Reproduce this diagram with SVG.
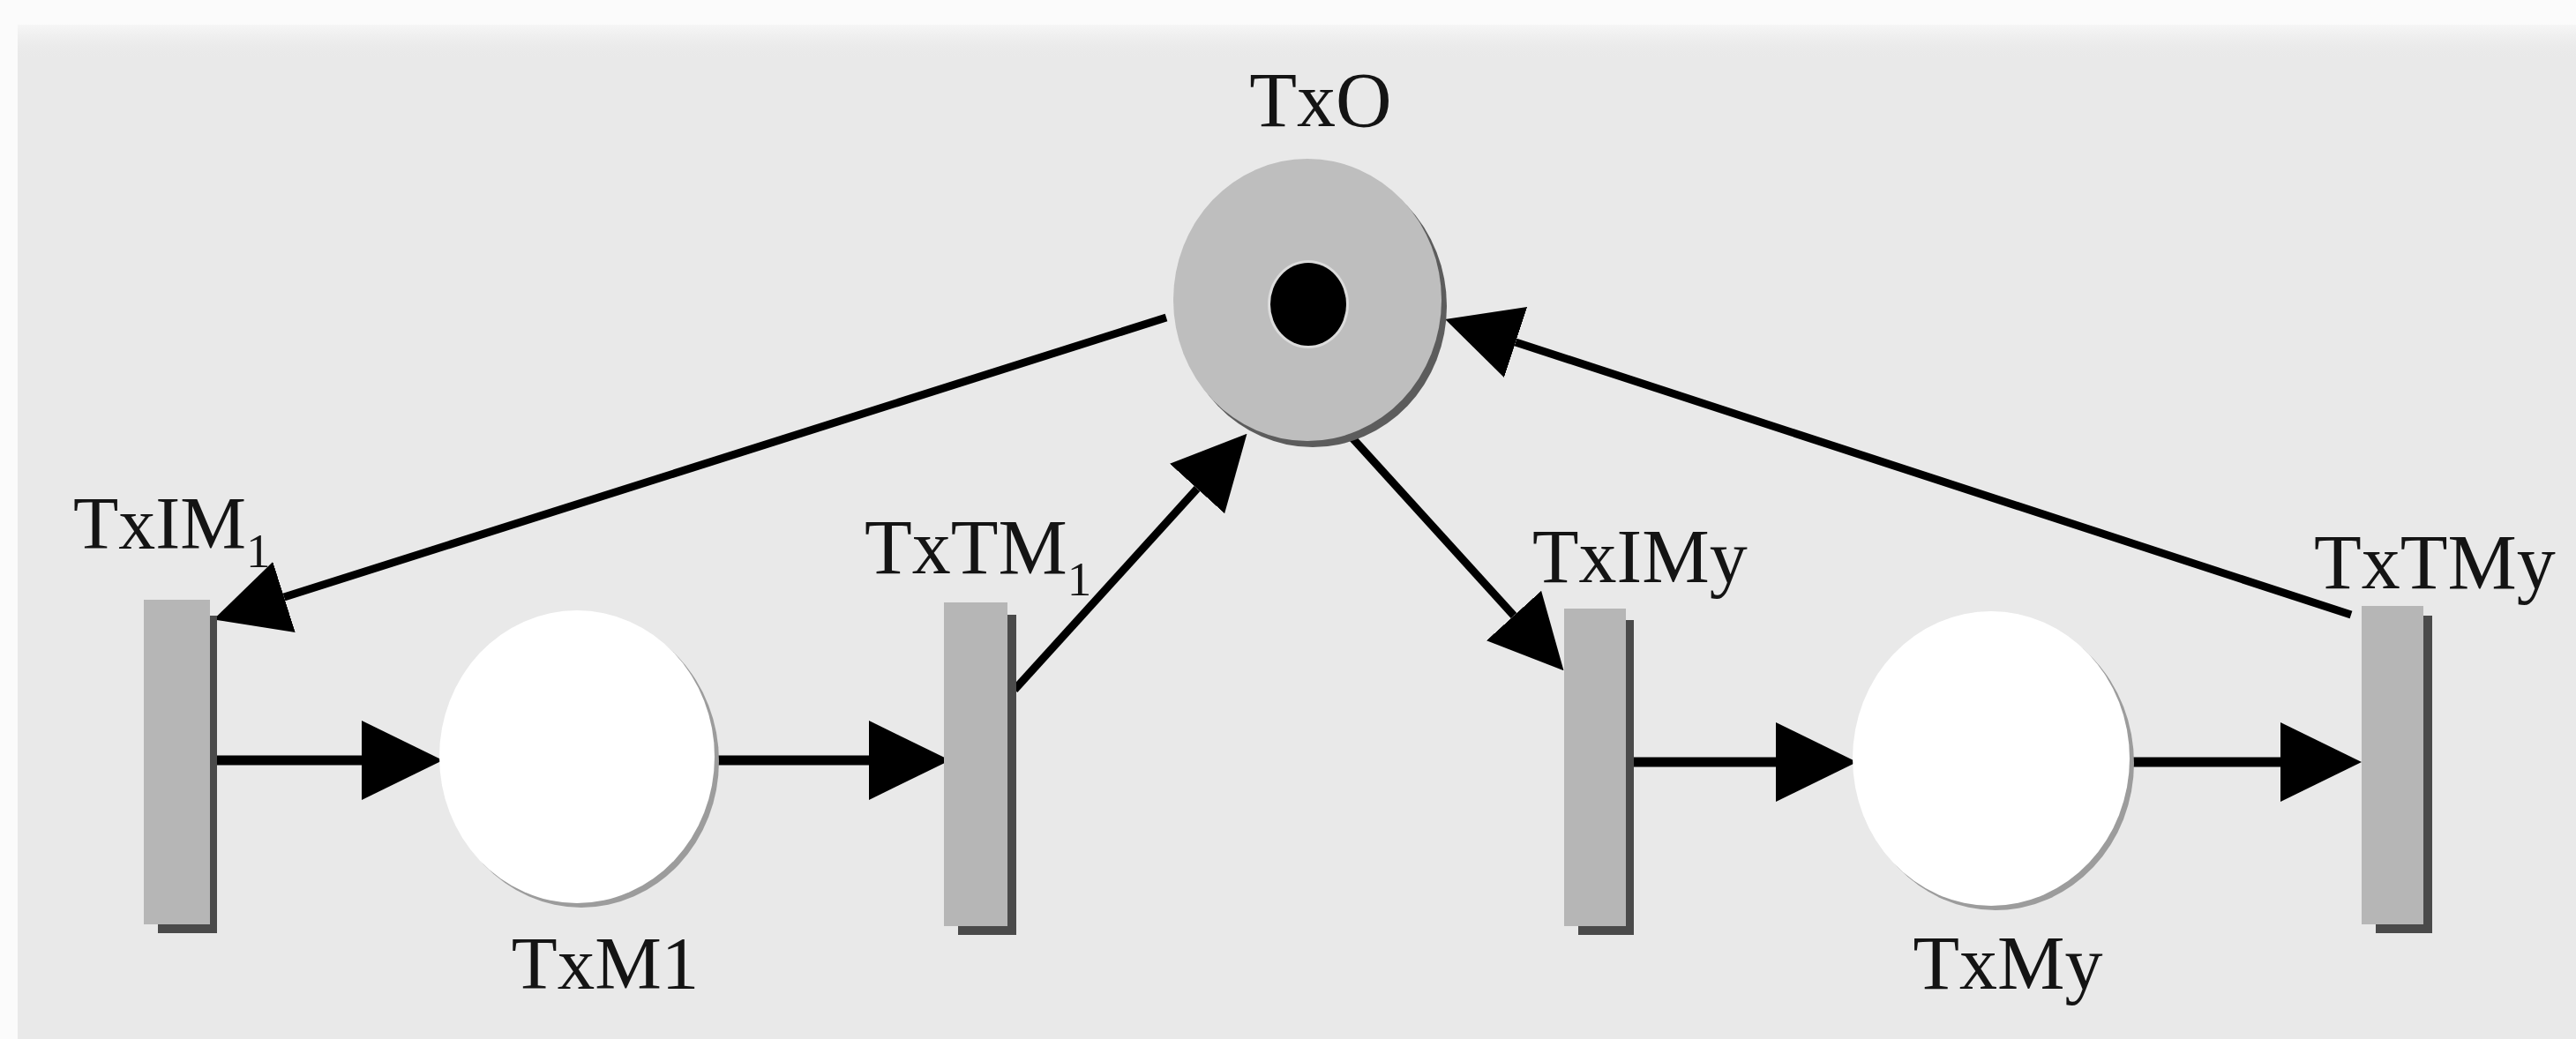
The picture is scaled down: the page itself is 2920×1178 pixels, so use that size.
<svg xmlns="http://www.w3.org/2000/svg" width="2920" height="1178" viewBox="0 0 2920 1178">
  <defs>
    <style>
      .lbl { font-family: "Liberation Serif", "Times New Roman", serif; fill: #141414; }
      .sub { font-size: 55px; }
      .bar { fill: #b6b6b6; }
      .bar-shadow { fill: #4a4a4a; }
      .arc { fill: none; stroke: #000; stroke-linecap: butt; }
      .arc-h { stroke-width: 11; marker-end: url(#head-h); }
      .arc-d { stroke-width: 9; marker-end: url(#head-d); }
    </style>
    <!-- arrowheads start at the line end (base) and point forward -->
    <marker id="head-h" markerUnits="userSpaceOnUse" viewBox="0 0 92 90" markerWidth="92" markerHeight="90" refX="0" refY="45" orient="auto">
      <path d="M0,0 L92,45 L0,90 Z" fill="#000"/>
    </marker>
    <marker id="head-d" markerUnits="userSpaceOnUse" viewBox="0 0 84 84" markerWidth="84" markerHeight="84" refX="0" refY="42" orient="auto">
      <path d="M0,0 L84,42 L0,84 Z" fill="#000"/>
    </marker>
    <linearGradient id="topfade" x1="0" y1="0" x2="0" y2="1">
      <stop offset="0" stop-color="#f6f6f6"/>
      <stop offset="1" stop-color="#e9e9e9" stop-opacity="0"/>
    </linearGradient>
  </defs>

  <!-- page and panel -->
  <rect x="0" y="0" width="2920" height="1178" fill="#fbfbfb"/>
  <rect x="20" y="28" width="2900" height="1150" fill="#e9e9e9"/>
  <rect x="20" y="28" width="2900" height="40" fill="url(#topfade)"/>

  <!-- arcs -->
  <g id="connectors">
    <path class="arc arc-d" d="M1322,360 L322,677"/>
    <path class="arc arc-h" d="M230,862 L410,862"/>
    <path class="arc arc-h" d="M806,862 L985,862"/>
    <path class="arc arc-d" d="M1150,782 L1357,554"/>
    <path class="arc arc-d" d="M1527,490 L1716,698"/>
    <path class="arc arc-h" d="M1840,864 L2013,864"/>
    <path class="arc arc-h" d="M2408,864 L2585,864"/>
    <path class="arc arc-d" d="M2665,697 L1718,388"/>
  </g>

  <!-- places -->
  <g id="place-TxO">
    <ellipse cx="1488" cy="347" rx="152" ry="160" fill="#5c5c5c"/>
    <ellipse cx="1482" cy="340" rx="152" ry="160" fill="#bebebe"/>
    <ellipse cx="1483" cy="345" rx="46" ry="50" fill="#dcdcdc"/>
    <ellipse cx="1483" cy="345" rx="43" ry="47" fill="#000"/>
    <text class="lbl" x="1497" y="143" font-size="88" text-anchor="middle">TxO</text>
  </g>

  <g id="place-TxM1">
    <ellipse cx="659" cy="863" rx="156" ry="166" fill="#9c9c9c"/>
    <ellipse cx="654" cy="858" rx="156" ry="166" fill="#ffffff"/>
    <text class="lbl" x="686" y="1121" font-size="85" text-anchor="middle">TxM1</text>
  </g>

  <g id="place-TxMy">
    <ellipse cx="2262" cy="865" rx="157" ry="167" fill="#9c9c9c"/>
    <ellipse cx="2257" cy="860" rx="157" ry="167" fill="#ffffff"/>
    <text class="lbl" x="2276" y="1121" font-size="86" text-anchor="middle">TxMy</text>
  </g>

  <!-- transitions -->
  <g id="trans-TxIM1">
    <rect class="bar-shadow" x="179" y="698" width="67" height="360"/>
    <rect class="bar" x="163" y="680" width="75" height="368"/>
    <text class="lbl" x="83" y="622" font-size="84">TxIM<tspan class="sub" dy="21">1</tspan></text>
  </g>

  <g id="trans-TxTM1">
    <rect class="bar-shadow" x="1086" y="697" width="66" height="363"/>
    <rect class="bar" x="1070" y="683" width="72" height="367"/>
    <text class="lbl" x="980" y="650" font-size="88">TxTM<tspan class="sub" dy="25">1</tspan></text>
  </g>

  <g id="trans-TxIMy">
    <rect class="bar-shadow" x="1789" y="703" width="63" height="357"/>
    <rect class="bar" x="1773" y="690" width="70" height="360"/>
    <text class="lbl" x="1737" y="660" font-size="86">TxIMy</text>
  </g>

  <g id="trans-TxTMy">
    <rect class="bar-shadow" x="2693" y="698" width="64" height="360"/>
    <rect class="bar" x="2677" y="687" width="70" height="361"/>
    <text class="lbl" x="2623" y="667" font-size="88">TxTMy</text>
  </g>
</svg>
